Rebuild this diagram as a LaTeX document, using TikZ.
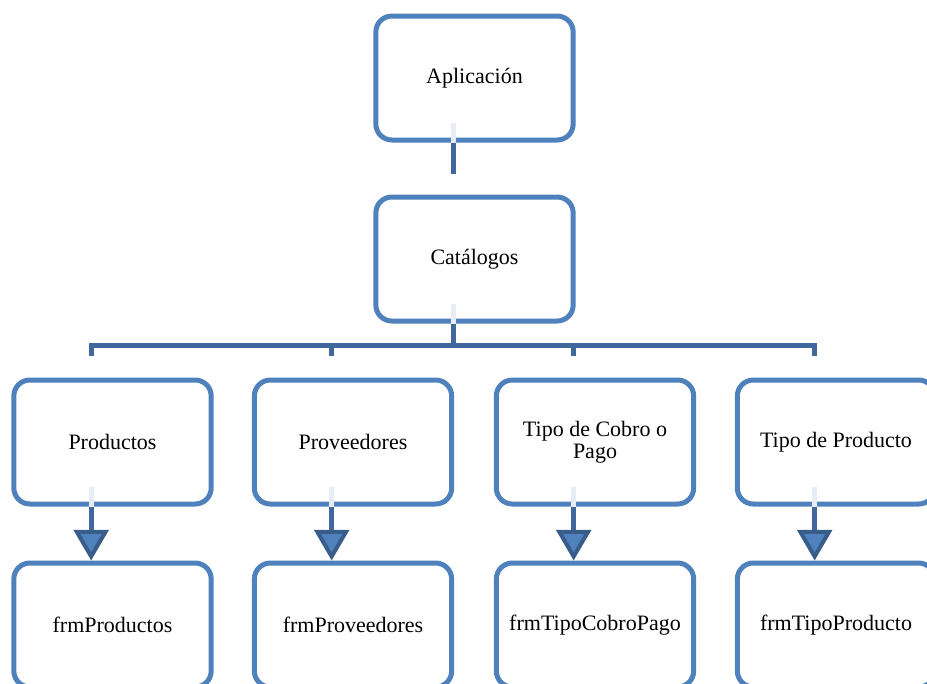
\documentclass[tikz,border=0pt]{standalone}
\usepackage{fontspec}
\setmainfont{Liberation Serif}
\usetikzlibrary{arrows.meta}
\definecolor{boxblue}{HTML}{4F81BD}
\definecolor{linkblue}{HTML}{41689C}
\definecolor{tipblue}{HTML}{385D8A}
\definecolor{linkfade}{HTML}{E8ECF4}
\begin{document}
\begin{tikzpicture}[x=0.75pt,y=-0.75pt,
	unitbox/.style={draw=boxblue,line width=3.75pt,rounded corners=12pt,minimum width=148pt,minimum height=93pt,inner sep=0pt,align=center,font=\fontsize{16.5}{16.5}\selectfont},
	link/.style={draw=linkblue,line width=3.75pt},
	fade/.style={draw=linkfade,line width=3.75pt},
	linkarrow/.style={link,-{Triangle[length=23pt,width=26pt,fill=boxblue,color=tipblue,line width=3pt]}}]
	\useasboundingbox (0,0) rectangle (927,683);
	\clip (0,0) rectangle (927,683);
	\node[unitbox] at (474.5,78)	(apl) {Aplicación};
	\node[unitbox] at (474.5,259)	(cat) {Catálogos};
	\node[unitbox] at (112.5,442)	(prod) {Productos};
	\node[unitbox] at (353,442)	(prov) {Proveedores};
	\node[unitbox] at (595,442)	(cobro) {Tipo de Cobro o\\Pago};
	\node[unitbox] at (836,442)	(tipo) {Tipo de Producto};
	\node[unitbox] at (112.5,625)	(fprod) {frmProductos};
	\node[unitbox] at (353,625)	(fprov) {frmProveedores};
	\node[unitbox] at (595,625)	(fcobro) {frmTipoCobroPago};
	\node[unitbox] at (836,625)	(ftipo) {frmTipoProducto};
	% aplicacion -> catalogos
	\draw[fade] ([xshift=-16pt,yshift=15pt]apl.south) -- ([xshift=-16pt]apl.south);
	\draw[link] ([xshift=-16pt]apl.south) -- ([xshift=-16pt,yshift=15.75pt]cat.north);
	% catalogos -> hijos
	\coordinate (bar) at ([xshift=-16pt,yshift=-16.5pt]cat.south);
	\draw[fade] ([xshift=-16pt,yshift=15pt]cat.south) -- ([xshift=-16pt]cat.south);
	\draw[link] ([xshift=-16pt]cat.south) -- (bar);
	\draw[link] ([xshift=-16pt,yshift=16.5pt]prod.north) |- (bar)
		-| ([xshift=-16pt,yshift=16.5pt]tipo.north);
	\draw[link] ([xshift=-16pt,yshift=16.5pt]prov.north) |- (bar);
	\draw[link] ([xshift=-16pt,yshift=16.5pt]cobro.north) |- (bar);
	% hijos -> formularios
	\draw[fade] ([xshift=-16pt,yshift=15pt]prod.south) -- ([xshift=-16pt]prod.south);
	\draw[linkarrow] ([xshift=-16pt]prod.south) -- ([xshift=-16pt]fprod.north);
	\draw[fade] ([xshift=-16pt,yshift=15pt]prov.south) -- ([xshift=-16pt]prov.south);
	\draw[linkarrow] ([xshift=-16pt]prov.south) -- ([xshift=-16pt]fprov.north);
	\draw[fade] ([xshift=-16pt,yshift=15pt]cobro.south) -- ([xshift=-16pt]cobro.south);
	\draw[linkarrow] ([xshift=-16pt]cobro.south) -- ([xshift=-16pt]fcobro.north);
	\draw[fade] ([xshift=-16pt,yshift=15pt]tipo.south) -- ([xshift=-16pt]tipo.south);
	\draw[linkarrow] ([xshift=-16pt]tipo.south) -- ([xshift=-16pt]ftipo.north);
\end{tikzpicture}
\end{document}
